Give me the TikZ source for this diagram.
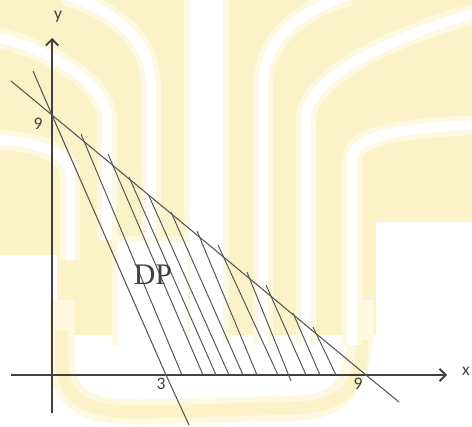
\documentclass[tikz,border=0pt]{standalone}
\usepackage{fontspec}
\newfontfamily\labelfont{Carlito}
\newfontfamily\dpfont{Liberation Serif}
\usepackage{tikz}
\usetikzlibrary{arrows.meta}
\definecolor{wmyellow}{RGB}{251,242,200}
\definecolor{wmsoft}{RGB}{253,248,224}
\definecolor{axisgray}{RGB}{64,64,64}
\definecolor{linegray}{RGB}{85,85,85}
\tikzset{
  axisline/.style={axisgray,line width=1.1pt,-{Straight Barb[length=3.5pt,width=7pt]}},
  constraint/.style={linegray,line width=0.6pt},
  hatchline/.style={linegray,line width=0.55pt},
  wmband/.style={line cap=butt,preaction={draw=wmsoft,line width=0.4cm},draw=white,line width=0.2cm},
  ticklabel/.style={font=\labelfont\fontsize{10}{12}\selectfont,text=axisgray,inner sep=0pt},
}

\begin{document}
\begin{tikzpicture}[line join=bevel,x=0.02cm,y=-0.02cm]
\useasboundingbox (0,0) rectangle (472,426);

% watermark
\begin{scope}
\fill[wmyellow] (0,0) -- (472,0) -- (472,222) -- (376,222) -- (376,335) -- (57,335) -- (57,255) -- (0,255) -- cycle;
\draw[wmsoft,line width=0.5cm] (62,300) -- (62,360) .. controls (62,405) and (95,412) .. (140,412) -- (300,408) .. controls (345,404) and (362,385) .. (362,300);
\draw[wmyellow,line width=0.25cm] (62,330) -- (62,360) .. controls (62,405) and (95,412) .. (140,412) -- (300,408) .. controls (345,404) and (362,385) .. (362,340);
\fill[wmsoft] (184,0) rectangle (229,345);
\fill[white] (190,0) rectangle (223,345);
\fill[wmsoft] (112,236) rectangle (188,345);
\fill[white] (118,242) rectangle (188,345);
\draw[wmband] (263,345) -- (263,85) .. controls (263,40) and (300,10) .. (350,-5);
\draw[wmband] (306,345) -- (306,120) .. controls (306,80) and (380,40) .. (480,12);
\draw[wmband] (352,345) -- (352,160) .. controls (352,135) and (400,128) .. (480,125);
\draw[wmband] (151,240) -- (151,85) .. controls (151,40) and (114,10) .. (64,-5);
\draw[wmband] (107,240) -- (107,120) .. controls (107,80) and (40,45) .. (-10,36);
\draw[wmband] (70,260) -- (70,175) .. controls (70,150) and (30,140) .. (-10,140);
\end{scope}

\coordinate (Ybot) at (52,413);
\coordinate (Ytop) at (52,38);
\coordinate (Xleft) at (11,375);
\coordinate (Xright) at (447,375);

\coordinate (A) at (52,115);
\coordinate (B) at (166,375);
\coordinate (C) at (366,375);

\coordinate (L1a) at (11,81);
\coordinate (L1b) at (399,402);
\coordinate (L2a) at (33,71);
\coordinate (L2b) at (189,425);

\draw[axisline] (Ybot) -- (Ytop);
\draw[axisline] (Xleft) -- (Xright);

\draw[constraint] (L1a) -- (A) -- (C) -- (L1b);
\draw[constraint] (L2a) -- (A) -- (B) -- (L2b);

\foreach \xt/\yt/\xb/\yb in {81/134/182/375, 108/154/203/375, 129/177/216/375,
  149/196/229/375, 171/212/243/375, 197/231/257/375, 218/245/278/375,
  247/272/291/381, 266/285/306/375, 293/313/320/375, 313/327/336/375}
  \draw[hatchline] (\xt,\yt) -- (\xb,\yb);

\node[ticklabel] (ylab) at (58,17) {y};
\node[ticklabel] (xlab) at (466,371) {x};
\node[ticklabel] (yNine) at (38,124) {9};
\node[ticklabel] (xThree) at (161,384) {3};
\node[ticklabel] (xNine) at (358,384) {9};
\node[font=\dpfont\fontsize{17}{20}\selectfont,text=axisgray,inner sep=0pt] (dp) at (153,275) {DP};

\end{tikzpicture}
\end{document}
